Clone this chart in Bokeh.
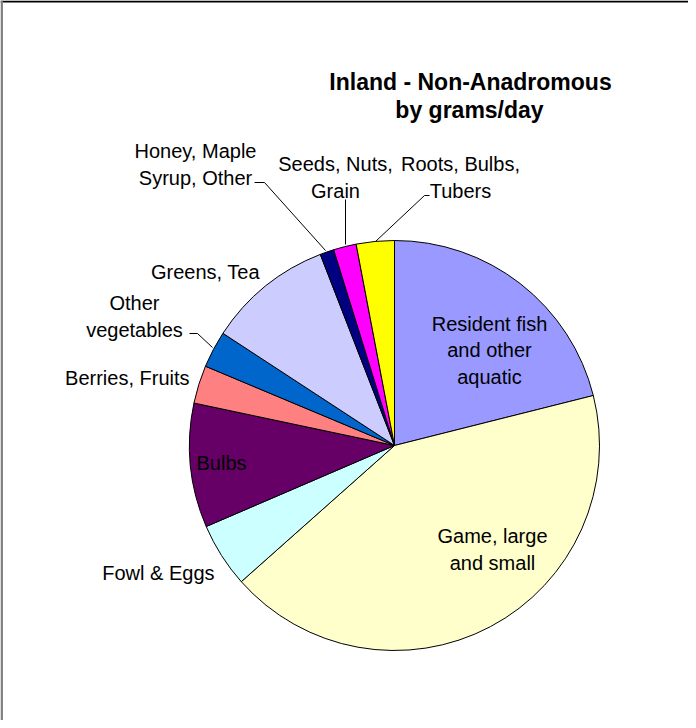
import numpy as np
from bokeh.plotting import figure
from bokeh.models import Range1d, ColumnDataSource
from bokeh.core.properties import value
from bokeh.embed import file_html
from bokeh.resources import INLINE

# ---- data ----
categories = ["Resident fish\nand other\naquatic", "Game, large\nand small", "Fowl & Eggs", "Bulbs",
              "Berries, Fruits", "Other\nvegetables", "Greens, Tea", "Honey, Maple\nSyrup, Other",
              "Seeds, Nuts,\nGrain", "Roots, Bulbs,\nTubers"]
values = [21.1, 42.4, 5.1, 9.8, 3.0, 2.9, 9.9, 1.1, 1.8, 3.0]
colors = ["#9999FF", "#FFFFCC", "#CCFFFF", "#660066", "#FF8080",
          "#0066CC", "#CCCCFF", "#000080", "#FF00FF", "#FFFF00"]
title_lines = ["Inland - Non-Anadromous", "by grams/day"]

W, H = 688, 720
def X(px):
    return px - 8
def Y(py):
    return 728 - py

p = figure(width=W, height=H, output_backend="svg", toolbar_location=None,
           x_range=Range1d(0, W), y_range=Range1d(0, H),
           x_axis_type=None, y_axis_type=None, min_border=0)
p.grid.visible = False
p.outline_line_color = None
p.background_fill_color = "white"

# pie
vals = np.array(values, dtype=float)
frac = vals / vals.sum()
cum = np.concatenate([[0], np.cumsum(frac)]) * 2 * np.pi
start = np.pi / 2 - cum[1:]
end = np.pi / 2 - cum[:-1]
src = ColumnDataSource(dict(start=start, end=end, color=colors))
cx, cy, r = X(402), Y(453), 205
p.wedge(x=cx, y=cy, radius=r, start_angle="start", end_angle="end",
        fill_color="color", line_color="black", line_width=1, source=src)

font = value("Liberation Sans")

def label(txt, px, py, align="center", size="20px"):
    p.text(x=[X(px)], y=[Y(py)], text=[txt], text_font=font, text_font_size=size,
           text_align=align, text_baseline="middle", text_color="black",
           text_line_height=1.2)

label(categories[0], 497, 358)
label(categories[1], 500, 557)
label(categories[2], 222, 580, align="right")
label(categories[3], 229, 470)
label(categories[4], 197, 385, align="right")
label(categories[5], 142, 324)
label(categories[6], 213, 279)
label(categories[7], 203, 172)
label(categories[8], 343, 185)
label(categories[9], 468, 185)

# leader lines
def leader(pts):
    p.line(x=[X(a) for a, b in pts], y=[Y(b) for a, b in pts], line_color="black", line_width=1)

leader([(197, 341), (205, 341), (220, 355)])
leader([(262, 190), (272, 190), (333, 258)])
leader([(353, 207), (353, 252)])
leader([(437, 203), (432, 203), (383, 249)])

# title
p.text(x=[X(478)], y=[Y(89)], text=[title_lines[0]], text_font=font, text_font_size="23px",
       text_font_style="bold", text_align="center", text_baseline="middle")
p.text(x=[X(477)], y=[Y(117)], text=[title_lines[1]], text_font=font, text_font_size="23px",
       text_font_style="bold", text_align="center", text_baseline="middle")

# frame edges
p.line(x=[0, W], y=[H - 1, H - 1], line_color="black", line_width=2)
p.line(x=[1.2, 1.2], y=[0, H], line_color="#808080", line_width=2.5)

open("out.html", "w").write(file_html(p, INLINE))
